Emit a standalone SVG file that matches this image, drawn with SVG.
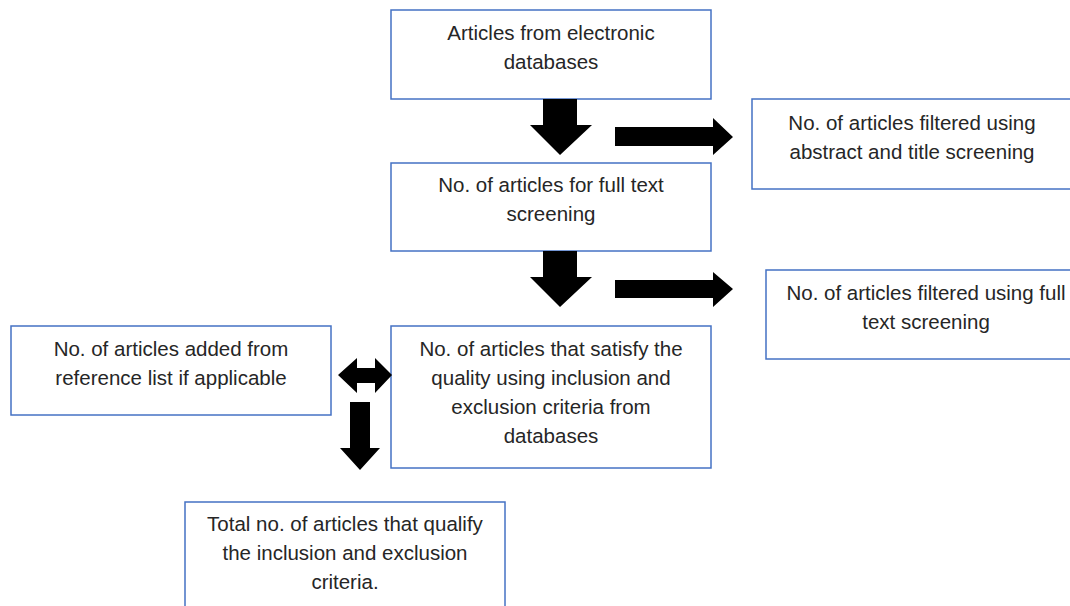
<svg xmlns="http://www.w3.org/2000/svg" width="1070" height="606" viewBox="0 0 1070 606">
<style>
.box{fill:#fff;stroke:#4472C4;stroke-width:1.5}
.t{font-family:"Liberation Sans",Arial,sans-serif;font-size:20.5px;fill:#262626;text-anchor:middle}
.arr{fill:#000}
</style>
<rect width="1070" height="606" fill="#fff"/>
<g id="n1"><rect class="box" x="391" y="10" width="320" height="89"/>
<text class="t" x="551" y="40">Articles from electronic</text><text class="t" x="551" y="69">databases</text></g>
<g id="n2"><rect class="box" x="391" y="163" width="320" height="88"/>
<text class="t" x="551" y="192">No. of articles for full text</text><text class="t" x="551" y="221">screening</text></g>
<g id="n3"><rect class="box" x="752" y="99" width="320" height="90"/>
<text class="t" x="912" y="130">No. of articles filtered using</text><text class="t" x="912" y="159">abstract and title screening</text></g>
<g id="n4"><rect class="box" x="766" y="270" width="320" height="89"/>
<text class="t" x="926" y="300">No. of articles filtered using full</text><text class="t" x="926" y="329">text screening</text></g>
<g id="n5"><rect class="box" x="391" y="326" width="320" height="142"/>
<text class="t" x="551" y="356">No. of articles that satisfy the</text><text class="t" x="551" y="385">quality using inclusion and</text><text class="t" x="551" y="414">exclusion criteria from</text><text class="t" x="551" y="443">databases</text></g>
<g id="n6"><rect class="box" x="11" y="326" width="320" height="89"/>
<text class="t" x="171" y="356">No. of articles added from</text><text class="t" x="171" y="385">reference list if applicable</text></g>
<g id="n7"><rect class="box" x="185" y="502" width="320" height="110"/>
<text class="t" x="345" y="531">Total no. of articles that qualify</text><text class="t" x="345" y="560">the inclusion and exclusion</text><text class="t" x="345" y="589">criteria.</text></g>
<g id="connectors">
<polygon class="arr" points="543,99 577,99 577,125 592,125 560,155 530,125 543,125"/>
<polygon class="arr" points="615,127 713,127 713,118 733,137 713,155 713,146 615,146"/>
<polygon class="arr" points="543,251 577,251 577,277 592,277 560,307 530,277 543,277"/>
<polygon class="arr" points="615,280 713,280 713,272 733,289 713,307 713,298 615,298"/>
<polygon class="arr" points="338,375 357,358 357,368 375,368 375,358 392,375 375,393 375,383 357,383 357,393"/>
<polygon class="arr" points="350,402 370,402 370,448 380,448 360,470 340,448 350,448"/>
</g>
</svg>
